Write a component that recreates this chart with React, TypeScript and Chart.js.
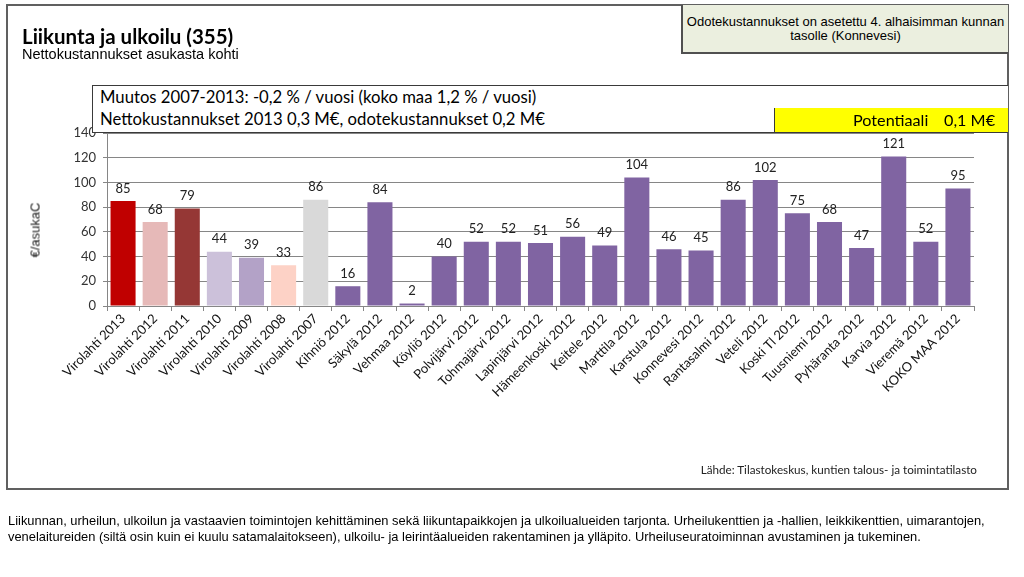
import React, { useEffect, useRef } from "react";
import { Chart, registerables } from "chart.js";

Chart.register(...registerables);

const categories: string[] = [
  "Virolahti 2013", "Virolahti 2012", "Virolahti 2011", "Virolahti 2010", "Virolahti 2009",
  "Virolahti 2008", "Virolahti 2007", "Kihniö 2012", "Säkylä 2012", "Vehmaa 2012",
  "Köyliö 2012", "Polvijärvi 2012", "Tohmajärvi 2012", "Lapinjärvi 2012", "Hämeenkoski 2012",
  "Keitele 2012", "Marttila 2012", "Karstula 2012", "Konnevesi 2012", "Rantasalmi 2012",
  "Veteli 2012", "Koski Tl 2012", "Tuusniemi 2012", "Pyhäranta 2012", "Karvia 2012",
  "Vieremä 2012", "KOKO MAA 2012",
];

const values: number[] = [
  85, 68, 79, 44, 39, 33, 86, 16, 84, 2, 40, 52, 52, 51, 56, 49, 104, 46, 45, 86, 102, 75, 68, 47, 121, 52, 95,
];

const virolahtiColors: string[] = ["#c00000", "#e6b9b8", "#953735", "#ccc1da", "#b3a2c7", "#fdd2c6", "#d9d9d9"];
const otherColor = "#8064a2";

const yMin = 0;
const yMax = 140;
const yStep = 20;

const titleText = "Liikunta ja ulkoilu (355)";
const subtitleText = "Nettokustannukset asukasta kohti";
const noteLines: string[] = ["Odotekustannukset on asetettu 4. alhaisimman kunnan", "tasolle (Konnevesi)"];
const changeText = "Muutos 2007-2013: -0,2 % / vuosi (koko maa 1,2 % / vuosi)";
const costText = "Nettokustannukset 2013 0,3 M€, odotekustannukset 0,2 M€";
const potentialLabel = "Potentiaali";
const potentialValue = "0,1 M€";
const yAxisTitle = "€/asukaC";
const sourceText = "Lähde: Tilastokeskus, kuntien talous- ja toimintatilasto";
const descriptionLines: string[] = [
  "Liikunnan, urheilun, ulkoilun ja vastaavien toimintojen kehittäminen sekä liikuntapaikkojen ja ulkoilualueiden tarjonta. Urheilukenttien ja -hallien, leikkikenttien, uimarantojen,",
  "venelaitureiden (siltä osin kuin ei kuulu satamalaitokseen), ulkoilu- ja leirintäalueiden rakentaminen ja ylläpito. Urheiluseuratoiminnan avustaminen ja tukeminen.",
];

const calibriLike = "Lato, 'Open Sans', sans-serif";
const arialLike = "'Liberation Sans', Arial, sans-serif";

const barColors = categories.map((_, i) => (i < virolahtiColors.length ? virolahtiColors[i] : otherColor));

const dataLabelPlugin = {
  id: "dataLabels",
  afterDatasetsDraw(chart: any) {
    const ctx = chart.ctx;
    const meta = chart.getDatasetMeta(0);
    ctx.save();
    ctx.font = "13px " + calibriLike;
    ctx.fillStyle = "#222222";
    ctx.textAlign = "center";
    ctx.textBaseline = "bottom";
    meta.data.forEach((el: any, i: number) => {
      const v = chart.data.datasets[0].data[i];
      ctx.fillText(String(v), el.x, el.y - 6);
    });
    ctx.restore();
  },
};

function ChartCanvas() {
  const ref = useRef<HTMLCanvasElement | null>(null);
  useEffect(() => {
    if (!ref.current) return;
    const chart = new Chart(ref.current, {
      type: "bar",
      data: {
        labels: categories,
        datasets: [
          {
            data: values,
            backgroundColor: barColors,
            borderWidth: 0,
            categoryPercentage: 1,
            barPercentage: 0.78,
          },
        ],
      },
      options: {
        animation: false,
        responsive: false,
        events: [],
        layout: { padding: { left: 62, top: 133, right: 50, bottom: 151 } },
        plugins: { legend: { display: false }, tooltip: { enabled: false }, title: { display: false } },
        scales: {
          x: {
            offset: true,
            grid: {
              display: true,
              offset: true,
              drawOnChartArea: false,
              drawTicks: true,
              tickLength: 5,
              color: "#868686",
            },
            border: { color: "#868686" },
            ticks: {
              autoSkip: false,
              maxRotation: 45,
              minRotation: 45,
              padding: 0,
              color: "#111111",
              font: { family: calibriLike, size: 13 },
            },
            afterFit(scale: any) {
              scale.height = 120;
            },
          },
          y: {
            min: yMin,
            max: yMax,
            ticks: {
              stepSize: yStep,
              padding: 7,
              color: "#333333",
              font: { family: calibriLike, size: 13 },
            },
            grid: { color: "#868686", tickLength: 4 },
            border: { color: "#868686" },
            afterFit(scale: any) {
              scale.width = 45;
            },
          },
        },
      },
      plugins: [dataLabelPlugin],
    });
    return () => chart.destroy();
  }, []);
  return (
    <canvas
      ref={ref}
      width={1024}
      height={577}
      style={{ position: "absolute", left: 0, top: 0, width: 1024, height: 577 }}
    />
  );
}

export default function App() {
  const lineColor = "#3a3a3a";
  return (
    <div style={{ position: "absolute", left: 0, top: 0, width: 1024, height: 577, background: "#ffffff", overflow: "hidden" }}>
      {/* outer frame */}
      <div
        style={{
          position: "absolute", left: 6, top: 4, width: 1003, height: 486,
          border: "2px solid #606060", boxSizing: "border-box",
        }}
      />
      <ChartCanvas />
      {/* title */}
      <div style={{ position: "absolute", left: 22, top: 25, fontFamily: calibriLike, fontWeight: 700, fontSize: 20.5, lineHeight: "22px", color: "#000" }}>
        {titleText}
      </div>
      <div style={{ position: "absolute", left: 22, top: 46, fontFamily: arialLike, fontSize: 14.5, lineHeight: "16px", color: "#000" }}>
        {subtitleText}
      </div>
      {/* note box */}
      <div
        style={{
          position: "absolute", left: 681, top: 5, width: 327, height: 49, boxSizing: "border-box",
          background: "#ebefdf", borderLeft: "2px solid #505050", borderBottom: "2px solid #505050",
          fontFamily: arialLike, fontSize: 13, lineHeight: "14px", textAlign: "center", paddingTop: 10, color: "#000",
          whiteSpace: "nowrap",
        }}
      >
        {noteLines.map((l, i) => (
          <div key={i}>{l}</div>
        ))}
      </div>
      {/* info row 1 */}
      <div
        style={{
          position: "absolute", left: 92, top: 85, width: 916, height: 24, boxSizing: "border-box",
          borderTop: `1px solid ${lineColor}`, borderLeft: `1px solid ${lineColor}`, borderBottom: `1px solid ${lineColor}`,
          fontFamily: calibriLike, fontSize: 16.7, lineHeight: "22px", paddingLeft: 7, color: "#000", background: "#fff",
          whiteSpace: "nowrap",
        }}
      >
        {changeText}
      </div>
      {/* info row 2 */}
      <div
        style={{
          position: "absolute", left: 92, top: 108, width: 682, height: 25, boxSizing: "border-box",
          borderLeft: `1px solid ${lineColor}`, borderBottom: `1px solid ${lineColor}`,
          fontFamily: calibriLike, fontSize: 16.7, lineHeight: "23px", paddingLeft: 7, color: "#000", background: "#fff",
          whiteSpace: "nowrap",
        }}
      >
        {costText}
      </div>
      <div
        style={{
          position: "absolute", left: 774, top: 108, width: 234, height: 25, boxSizing: "border-box",
          borderLeft: `1px solid ${lineColor}`, borderBottom: `1px solid ${lineColor}`,
          background: "#ffff00", fontFamily: calibriLike, fontSize: 16.2, lineHeight: "23px", color: "#000",
          whiteSpace: "nowrap",
        }}
      >
        <span style={{ position: "absolute", left: 78 }}>{potentialLabel}</span>
        <span style={{ position: "absolute", left: 169 }}>{potentialValue}</span>
      </div>
      {/* y axis title */}
      <div
        style={{
          position: "absolute", left: 35, top: 230, fontFamily: arialLike, fontSize: 13, lineHeight: "15px",
          color: "#1a1a1a", whiteSpace: "nowrap", transform: "translate(-50%, -50%) rotate(-90deg)",
        }}
      >
        {yAxisTitle}
      </div>
      {/* source */}
      <div
        style={{
          position: "absolute", right: 47, top: 462, fontFamily: calibriLike, fontSize: 11.7, lineHeight: "14px",
          color: "#222", whiteSpace: "nowrap",
        }}
      >
        {sourceText}
      </div>
      {/* description */}
      <div
        style={{
          position: "absolute", left: 8, top: 513, fontFamily: arialLike, fontSize: 12.9, lineHeight: "16px",
          color: "#000", whiteSpace: "nowrap",
        }}
      >
        {descriptionLines.map((l, i) => (
          <div key={i}>{l}</div>
        ))}
      </div>
    </div>
  );
}
